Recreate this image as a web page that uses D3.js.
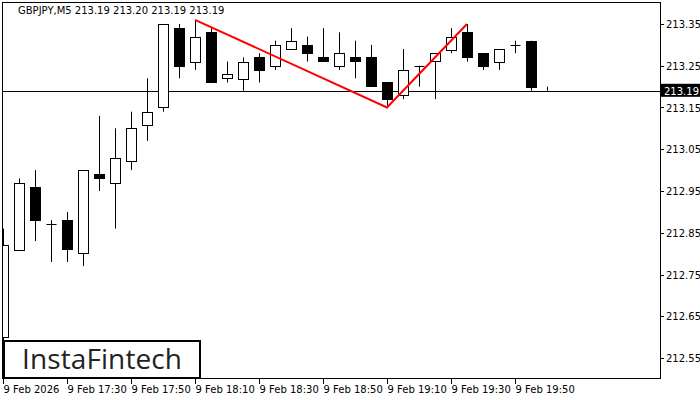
<!DOCTYPE html><html><head><meta charset="utf-8"><script src="https://cdn.jsdelivr.net/npm/d3@7"></script>
<style>body{margin:0;background:#fff}text{font-family:Tahoma,"DejaVu Sans",sans-serif;font-size:10px}</style></head><body><svg id="c" width="700" height="400"></svg><script>
const opens=[212.60,212.81,212.96,212.87,212.88,212.80,212.99,212.97,213.02,213.11,213.15,213.34,213.26,213.33,213.22,213.22,213.27,213.25,213.29,213.30,213.27,213.25,213.27,213.27,213.21,213.18,213.25,213.26,213.29,213.33,213.28,213.26,213.30,213.31,213.19];
const closes=[212.82,212.97,212.88,212.87,212.81,213.00,212.98,213.03,213.10,213.14,213.35,213.25,213.32,213.21,213.23,213.26,213.24,213.30,213.31,213.28,213.26,213.28,213.26,213.20,213.17,213.24,213.25,213.28,213.32,213.27,213.25,213.29,213.30,213.20,213.19];
const highs=[212.86,212.98,213.00,212.88,212.90,213.00,213.13,213.10,213.14,213.22,213.35,213.35,213.36,213.34,213.26,213.27,213.28,213.31,213.34,213.32,213.34,213.33,213.31,213.30,213.21,213.29,213.25,213.28,213.34,213.35,213.28,213.29,213.31,213.31,213.20];
const lows=[212.50,212.81,212.83,212.78,212.78,212.77,212.95,212.86,213.00,213.07,213.14,213.22,213.24,213.21,213.21,213.19,213.21,213.24,213.29,213.26,213.26,213.24,213.22,213.20,213.15,213.17,213.20,213.17,213.28,213.26,213.24,213.24,213.28,213.19,213.19];
const priceTicks=[213.35,213.25,213.15,213.05,212.95,212.85,212.75,212.65,212.55];
const timeLabels=["9 Feb 2026","9 Feb 17:30","9 Feb 17:50","9 Feb 18:10","9 Feb 18:30","9 Feb 18:50","9 Feb 19:10","9 Feb 19:30","9 Feb 19:50"];
const timeIdx=[0,4,8,12,16,20,24,28,32];
const pattern=[[12,213.36],[24,213.15],[29,213.35]];
const current=213.19;
const svg=d3.select("#c");
const x=d3.scaleLinear().domain([0,34]).range([3,547]);
const y=d3.scaleLinear().domain([212.55,213.35]).range([358,24]);
svg.append("rect").attr("x",2.5).attr("y",2.5).attr("width",658).attr("height",376).attr("fill","none").attr("stroke","#000");
const g=svg.append("g").attr("clip-path","url(#cl)");
svg.append("clipPath").attr("id","cl").append("rect").attr("x",3).attr("y",3).attr("width",657).attr("height",375);
g.append("line").attr("x1",3).attr("x2",660).attr("y1",Math.round(y(current))+0.5).attr("y2",Math.round(y(current))+0.5).attr("stroke","#000");
opens.forEach((o,i)=>{const cx=Math.round(x(i))+0.5;
 g.append("line").attr("x1",cx).attr("x2",cx).attr("y1",y(highs[i])).attr("y2",y(lows[i])).attr("stroke","#000");
 const t=Math.min(y(o),y(closes[i])),b=Math.max(y(o),y(closes[i]));
 if(b-t<1.5){g.append("line").attr("x1",cx-5).attr("x2",cx+5).attr("y1",Math.round(t)+0.5).attr("y2",Math.round(t)+0.5).attr("stroke","#000");}
 else g.append("rect").attr("x",cx-5).attr("y",Math.round(t)+0.5).attr("width",10).attr("height",Math.round(b-t)).attr("fill",closes[i]>o?"#fff":"#000").attr("stroke","#000");
});
g.append("path").attr("d",d3.line().x(d=>x(d[0])).y(d=>y(d[1]))(pattern)).attr("fill","none").attr("stroke","#f00").attr("stroke-width",2);
priceTicks.forEach(p=>{svg.append("line").attr("x1",660).attr("x2",664).attr("y1",Math.round(y(p))+0.5).attr("y2",Math.round(y(p))+0.5).attr("stroke","#000");
 svg.append("text").attr("x",666).attr("y",y(p)+4).text(p.toFixed(2));});
const cy=y(current);
svg.append("rect").attr("x",661).attr("y",cy-7).attr("width",39).attr("height",13).attr("fill","#000");
svg.append("text").attr("x",664).attr("y",cy+4).attr("fill","#fff").text(current.toFixed(2));
timeIdx.forEach((k,j)=>{const tx=Math.round(x(k))+0.5;svg.append("line").attr("x1",tx).attr("x2",tx).attr("y1",379).attr("y2",384).attr("stroke","#000");
 svg.append("text").attr("x",tx).attr("y",393).text(timeLabels[j]);});
svg.append("text").attr("x",18).attr("y",14).text("GBPJPY,M5  213.19 213.20 213.19 213.19");
svg.append("rect").attr("x",4).attr("y",341).attr("width",196).attr("height",37).attr("fill","#fff").attr("stroke","#000").attr("stroke-width",2);
svg.append("text").attr("x",22).attr("y",369).style("font-size","28px").style("font-weight","500").style("font-family","'Open Sans',sans-serif").attr("textLength",160).attr("fill","#222").text("InstaFintech");
</script></body></html>
